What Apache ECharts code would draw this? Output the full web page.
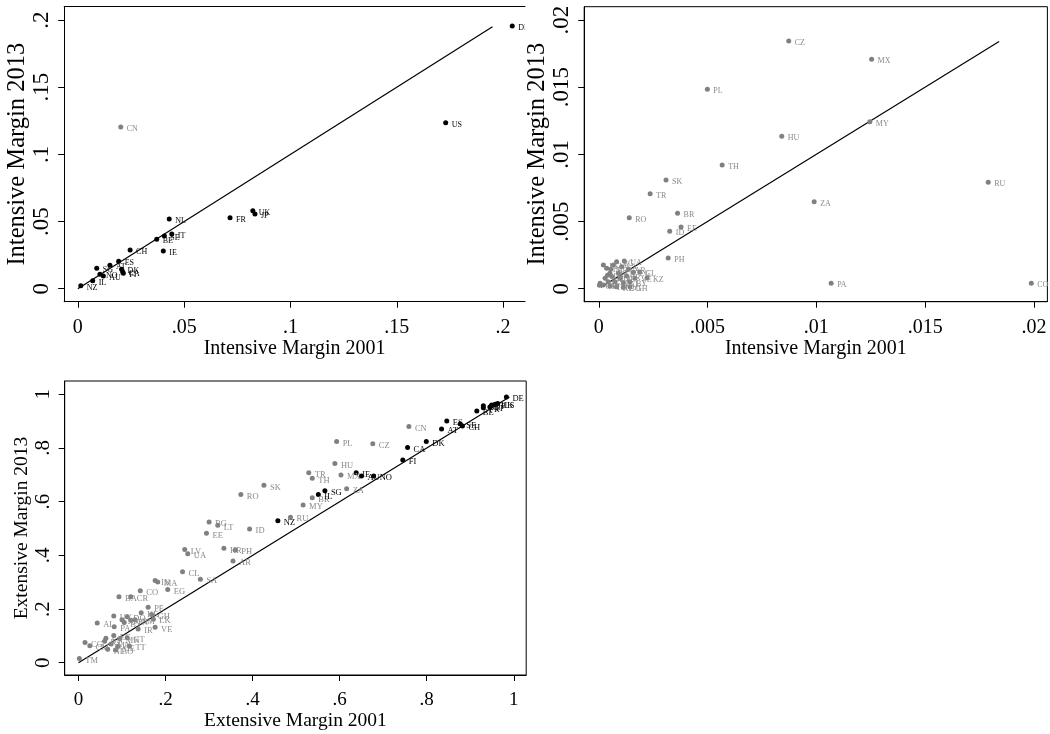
<!DOCTYPE html>
<html>
<head>
<meta charset="utf-8">
<script src="https://cdn.jsdelivr.net/npm/echarts@6/dist/echarts.min.js"></script>
<style>html,body{margin:0;padding:0;background:#fff}#c{width:1050px;height:734px}</style>
</head>
<body>
<div id="c"></div>
<script>
// ---------- Panel A: Intensive margin (large axis) ----------
const intA_hiNames = ['DE','US','UK','JP','FR','NL','IT','SE','BE','CH','IE','ES','AT','SG','DK','CA','FI','NO','AU','IL','NZ'];
const intA_hi2001  = [0.2043,0.1730,0.0823,0.0833,0.0716,0.0430,0.0442,0.0407,0.0371,0.0246,0.0402,0.0192,0.0151,0.0089,0.0206,0.0211,0.0214,0.0104,0.0120,0.0070,0.0014];
const intA_hi2013  = [0.1955,0.1236,0.0581,0.0556,0.0528,0.0519,0.0407,0.0392,0.0368,0.0288,0.0281,0.0204,0.0174,0.0152,0.0144,0.0127,0.0115,0.0107,0.0095,0.0060,0.0022];
const intA_loNames = ['CN'];
const intA_lo2001  = [0.0202];
const intA_lo2013  = [0.1203];
const intA_ticks   = [0, 0.05, 0.1, 0.15, 0.2];
const intA_fit     = [0, 0.195];

// ---------- Panel B: Intensive margin (small axis) ----------
const intB_names = ['CZ','MX','PL','MY','HU','TH','SK','RU','TR','ZA','BR','RO','EE','ID','PH','PA','CO','CL','KZ',
  'UA','BG','LT','LV','SA','IN','HR','AR','EG','MA','CR','VE','IR','PE','BA','LK','AL','BY','GT','TT','NI','BO','TM','KE','GH','OM','DO','UY'];
const intB_2001 = [0.00873,0.01254,0.00499,0.01246,0.00841,0.00567,0.00309,0.0179,0.00236,0.0099,0.00362,0.0014,0.00378,0.00326,0.00319,0.01068,0.01988,0.00188,0.00222,
  0.00117,0.00082,0.00021,0.00067,0.00105,0.00036,0.00055,0.00136,0.00159,0.00051,0.00090,0.00166,0.00128,0.00097,0.00029,0.00074,0.00113,0.00143,0.00043,0.00006,0.00021,0.00113,0.00051,0.00082,0.00143,0.00003,0.00060,0.00040];
const intB_2013 = [0.01844,0.01707,0.01484,0.01243,0.01134,0.0092,0.00809,0.00792,0.00707,0.00648,0.00561,0.00529,0.00459,0.00427,0.00228,0.0004,0.0004,0.00125,0.00082,
  0.00206,0.00201,0.00176,0.00176,0.00164,0.00152,0.00144,0.00144,0.00122,0.00115,0.00115,0.00077,0.00095,0.00077,0.00077,0.00052,0.00045,0.00052,0.00052,0.00040,0.00028,0.00010,0.00020,0.00015,0.00015,0.00025,0.00090,0.00100];
const intB_ticks = [0, 0.005, 0.01, 0.015, 0.02];
const intB_fit   = [0.0001, 0.0184];

// ---------- Panel C: Extensive margin ----------
const ext_hiNames = ['DE','US','UK','JP','NL','FR','IT','BE','ES','SE','CH','AT','DK','CA','FI','IE','AU','NO','SG','IL','NZ'];
const ext_hi2001  = [0.983,0.963,0.957,0.949,0.930,0.930,0.945,0.915,0.846,0.877,0.882,0.834,0.799,0.756,0.745,0.638,0.650,0.678,0.566,0.551,0.458];
const ext_hi2013  = [0.990,0.966,0.963,0.960,0.957,0.950,0.953,0.938,0.901,0.889,0.882,0.871,0.824,0.802,0.755,0.708,0.696,0.696,0.641,0.627,0.529];
const ext_loNames = ['CN','PL','CZ','HU','TR','TH','MX','SK','ZA','RO','BR','MY','RU','BG','LT','ID','EE','LV','UA','HR','PH','AR','CL','SA','IN','MA','EG','CO','BA','CR',
  'PE','GH','KE','LK','OM','VE','IR','AL','PA','BY','DO','UY','JO','TN','GT','MK','TT','CG','CM','NI','BO','TM','SN','EC','MN','GE','KZ'];
const ext_lo2001 = [0.759,0.593,0.676,0.589,0.529,0.537,0.603,0.426,0.616,0.373,0.537,0.516,0.487,0.300,0.320,0.393,0.294,0.244,0.251,0.334,0.360,0.355,0.239,0.280,0.176,0.182,0.205,0.142,0.093,0.120,
  0.160,0.168,0.144,0.172,0.130,0.176,0.137,0.043,0.082,0.105,0.112,0.081,0.100,0.120,0.112,0.095,0.117,0.015,0.026,0.067,0.085,0.002,0.063,0.081,0.075,0.090,0.060];
const ext_lo2013 = [0.880,0.824,0.816,0.742,0.708,0.687,0.699,0.661,0.648,0.627,0.615,0.588,0.542,0.524,0.512,0.498,0.482,0.422,0.406,0.426,0.420,0.379,0.339,0.311,0.306,0.301,0.273,0.268,0.246,0.246,
  0.207,0.180,0.186,0.162,0.160,0.132,0.126,0.148,0.134,0.150,0.171,0.174,0.160,0.158,0.093,0.090,0.062,0.075,0.063,0.050,0.047,0.016,0.091,0.101,0.070,0.060,0.080];
const ext_ticks = [0, 0.2, 0.4, 0.6, 0.8, 1];
const ext_fit   = [0, 0.99];

// ---------- helpers ----------
const FONT = '"Liberation Serif","Times New Roman",serif';
const BLACK = '#000000', GREY = '#808080', GREYTXT = '#8a8a8a';
function fmt(v){ if (v === 0) return '0'; const s = String(+v.toPrecision(6)); return s.replace(/^0\./, '.'); }
function pts(names, xs, ys){ return names.map((n,i)=>[xs[i], ys[i], n]); }
function fitLine(g, f){ return {type:'line', xAxisIndex:g, yAxisIndex:g, data:[[f[0],f[0]],[f[1],f[1]]], symbol:'none',
  lineStyle:{color:'#000', width:1.2}, silent:true, z:2}; }
function scat(g, data, color, tcolor, fs){ return {type:'scatter', xAxisIndex:g, yAxisIndex:g, data, symbolSize:5,
  itemStyle:{color, opacity:1}, silent:true, z:3,
  label:{show:true, position:'right', distance:3.5, offset:[0,2], formatter:p=>p.data[2], fontFamily:FONT, fontSize:fs, color:tcolor}}; }
function xAx(g, min, max, ticks, o){ return {type:'value', gridIndex:g, min, max, position:'bottom',
  axisLine:{show:true, onZero:false, lineStyle:{color:'#000', width:1}},
  axisTick:{show:true, customValues:ticks, length:6, lineStyle:{color:'#000', width:1}},
  axisLabel:{show:true, customValues:ticks, formatter:fmt, fontFamily:FONT, fontSize:o.tf, color:'#000', margin:o.tm},
  splitLine:{show:false}, name:o.name, nameLocation:'middle', nameGap:o.ng,
  nameTextStyle:{fontFamily:FONT, fontSize:o.nf, color:'#000'}}; }
function yAx(g, min, max, ticks, o){ return {type:'value', gridIndex:g, min, max, position:'left',
  axisLine:{show:true, onZero:false, lineStyle:{color:'#000', width:1}},
  axisTick:{show:true, customValues:ticks, length:6, lineStyle:{color:'#000', width:1}},
  axisLabel:{show:true, customValues:ticks, formatter:fmt, rotate:90, fontFamily:FONT, fontSize:o.tf, color:'#000', margin:o.tm},
  splitLine:{show:false}, name:o.name, nameLocation:'middle', nameGap:o.ng, nameRotate:90,
  nameTextStyle:{fontFamily:FONT, fontSize:o.nf, color:'#000'}}; }

const chart = echarts.init(document.getElementById('c'), null, {renderer:'canvas'});
const topX = {tf:20, tm:16.5, nf:20, ng:35};
const topY = {tf:23, tm:10.5, nf:24.5, ng:30};
const botX = {tf:19, tm:15.5, nf:19.5, ng:35.5};
const botY = {tf:21, tm:11, nf:19.5, ng:32.5};

const option = {
  animation:false,
  backgroundColor:'#ffffff',
  grid:[
    {left:64.2, top:6.7, width:460.8, height:295, show:false, outerBoundsMode:'none', containLabel:false},
    {left:584.2, top:6.7, width:463.2, height:295, show:true, borderColor:'#000', borderWidth:1, backgroundColor:'transparent', outerBoundsMode:'none', containLabel:false},
    {left:64.7, top:381, width:461.5, height:294, show:true, borderColor:'#000', borderWidth:1, backgroundColor:'transparent', outerBoundsMode:'none', containLabel:false}
  ],
  xAxis:[
    xAx(0, -0.0064, 0.2103, intA_ticks, Object.assign({name:'Intensive Margin 2001'}, topX)),
    xAx(1, -0.000671, 0.02062, intB_ticks, Object.assign({name:'Intensive Margin 2001'}, topX)),
    xAx(2, -0.0317, 1.0285, ext_ticks, Object.assign({name:'Extensive Margin 2001'}, botX)),
    {type:'value', gridIndex:0, min:-0.0064, max:0.2103, position:'top',
     axisLine:{show:true, onZero:false, lineStyle:{color:'#000', width:1}}, axisTick:{show:false}, axisLabel:{show:false}, splitLine:{show:false}}
  ],
  yAxis:[
    yAx(0, -0.00968, 0.2099, intA_ticks, Object.assign({name:'Intensive Margin 2013'}, topY)),
    yAx(1, -0.000968, 0.02099, intB_ticks, Object.assign({name:'Intensive Margin 2013'}, topY)),
    yAx(2, -0.0458, 1.0496, ext_ticks, Object.assign({name:'Extensive Margin 2013'}, botY))
  ],
  series:[
    fitLine(0, intA_fit),
    scat(0, pts(intA_loNames, intA_lo2001, intA_lo2013), GREY, GREYTXT, 8),
    scat(0, pts(intA_hiNames, intA_hi2001, intA_hi2013), BLACK, BLACK, 8),
    fitLine(1, intB_fit),
    scat(1, pts(intB_names, intB_2001, intB_2013), GREY, GREYTXT, 8),
    fitLine(2, ext_fit),
    scat(2, pts(ext_loNames, ext_lo2001, ext_lo2013), GREY, GREYTXT, 8.5),
    scat(2, pts(ext_hiNames, ext_hi2001, ext_hi2013), BLACK, BLACK, 8.5)
  ],
  graphic:[
    {type:'rect', shape:{x:525, y:16, width:5, height:22}, style:{fill:'#ffffff'}, z:100, silent:true}
  ]
};
chart.setOption(option);
</script>
</body>
</html>
